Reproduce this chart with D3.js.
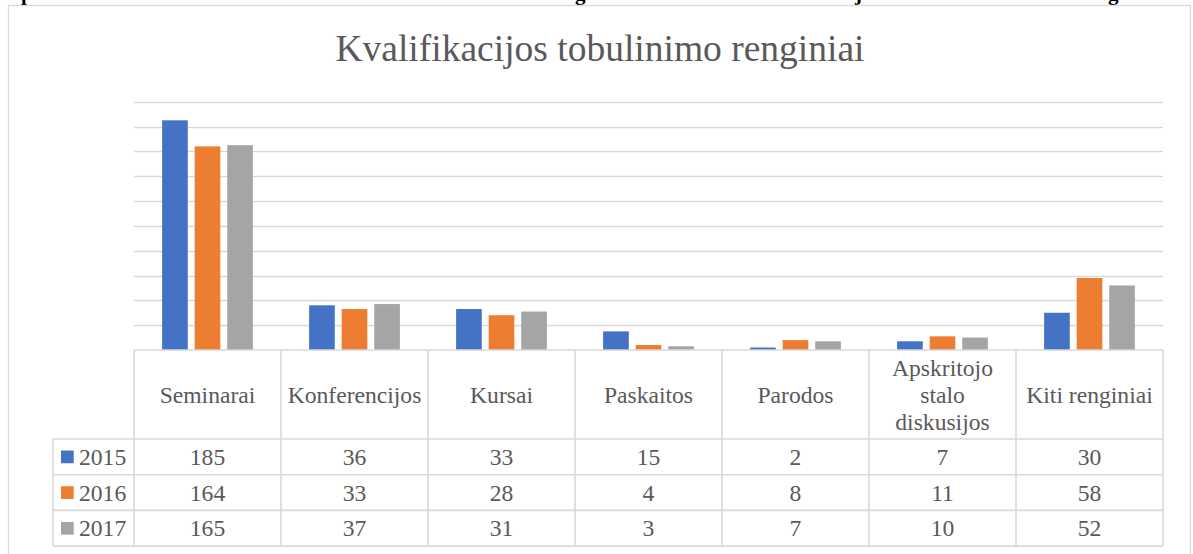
<!DOCTYPE html>
<html>
<head>
<meta charset="utf-8">
<script src="https://cdn.jsdelivr.net/npm/d3@7"></script>
<style>
  body { margin: 0; background: #fff; }
  svg { display: block; }
  svg text { font-family: "Liberation Serif", "Times New Roman", serif; }
</style>
</head>
<body>
<svg width="1193" height="554"></svg>
<script>
var categories = ["Seminarai", "Konferencijos", "Kursai", "Paskaitos", "Parodos", "Apskritojo stalo diskusijos", "Kiti renginiai"];
var years = ["2015", "2016", "2017"];
var values2015 = [185, 36, 33, 15, 2, 7, 30];
var values2016 = [164, 33, 28, 4, 8, 11, 58];
var values2017 = [165, 37, 31, 3, 7, 10, 52];
var colors = ["#4472C4", "#ED7D31", "#A5A5A5"];
var title = "Kvalifikacijos tobulinimo renginiai";

var series = [values2015, values2016, values2017];

var svg = d3.select("svg"),
    textColor = "#595959",
    lineColor = "#D9D9D9";

// clipped line of the document text above the chart
var clipped = [["p", 21], ["g", 575], ["j", 855], ["g", 1108]];
svg.selectAll(".clip-text").data(clipped).enter().append("text")
    .attr("class", "clip-text")
    .attr("x", function(d) { return d[1]; })
    .attr("y", 0)
    .attr("font-size", 21).attr("font-weight", "bold").attr("fill", "#000")
    .text(function(d) { return d[0]; });

// chart area border
svg.append("rect")
    .attr("x", 8.5).attr("y", 5.5).attr("width", 1182).attr("height", 600)
    .attr("fill", "#fff").attr("stroke", lineColor).attr("stroke-width", 1.3);

svg.append("text")
    .attr("x", 600).attr("y", 61)
    .attr("text-anchor", "middle")
    .attr("font-size", 37.5).attr("fill", textColor)
    .text(title);

var plotLeft = 134, plotRight = 1163, plotTop = 101.7, base = 350;

var x = d3.scaleBand().domain(categories).range([plotLeft, plotRight]);
var xs = d3.scaleBand().domain(years).range([0, x.bandwidth()]).paddingInner(0.212).paddingOuter(0.864);
var y = d3.scaleLinear().domain([0, 200]).range([base, plotTop]);

// gridlines
svg.append("g").selectAll("line").data(y.ticks(10).filter(function(t) { return t > 0; }))
  .enter().append("line")
    .attr("x1", plotLeft).attr("x2", plotRight)
    .attr("y1", function(d) { return Math.round(y(d)) + 0.5; })
    .attr("y2", function(d) { return Math.round(y(d)) + 0.5; })
    .attr("stroke", lineColor).attr("stroke-width", 1.3);

// bars
var groups = svg.append("g").selectAll("g").data(series).enter().append("g")
    .attr("fill", function(d, i) { return colors[i]; });

groups.selectAll("rect").data(function(d, i) {
    return d.map(function(v, j) { return {cat: categories[j], year: years[i], v: v}; });
  })
  .enter().append("rect")
    .attr("x", function(d) { return x(d.cat) + xs(d.year); })
    .attr("width", xs.bandwidth())
    .attr("y", function(d) { return y(d.v); })
    .attr("height", function(d) { return base - y(d.v); });

// data table
var headerBottom = 439, rowH = 35.7, legendLeft = 53;
var rowTops = years.map(function(d, i) { return headerBottom + i * rowH; });
var tableBottom = headerBottom + years.length * rowH;
var fs = 23.6;

var grid = svg.append("g").attr("stroke", lineColor).attr("stroke-width", 1.6);
grid.append("line").attr("x1", plotLeft).attr("x2", plotRight).attr("y1", base).attr("y2", base);
[headerBottom].concat(rowTops.slice(1), [tableBottom]).forEach(function(yy) {
  grid.append("line").attr("x1", legendLeft).attr("x2", plotRight).attr("y1", yy).attr("y2", yy);
});
grid.append("line").attr("x1", legendLeft).attr("x2", legendLeft).attr("y1", headerBottom).attr("y2", tableBottom);
categories.concat([null]).forEach(function(c) {
  var xx = c ? x(c) : plotRight;
  grid.append("line").attr("x1", xx).attr("x2", xx).attr("y1", base).attr("y2", tableBottom);
});

// category headers, wrapped to the column width
var heads = svg.append("g").selectAll("text").data(categories).enter().append("text")
    .attr("text-anchor", "middle").attr("font-size", fs).attr("fill", textColor);

heads.each(function(d) {
  var t = d3.select(this), words = d.split(" "), lines = [], cur = [];
  words.forEach(function(w) {
    cur.push(w);
    t.text(cur.join(" "));
    if (this.getComputedTextLength() > x.bandwidth() - 8 && cur.length > 1) {
      cur.pop();
      lines.push(cur.join(" "));
      cur = [w];
    }
  }, this);
  lines.push(cur.join(" "));
  t.text(null);
  var lh = 27, cy = (base + headerBottom) / 2 + 8 - (lines.length - 1) * lh / 2;
  lines.forEach(function(l, k) {
    t.append("tspan").attr("x", x(d) + x.bandwidth() / 2).attr("y", cy + k * lh).text(l);
  });
});

// value rows
series.forEach(function(vals, i) {
  var cy = rowTops[i] + rowH / 2;
  svg.append("rect")
      .attr("x", 61).attr("y", cy - 6.3).attr("width", 12.7).attr("height", 12.7)
      .attr("fill", colors[i]);
  svg.append("text")
      .attr("x", 79).attr("y", cy + 8)
      .attr("font-size", fs).attr("fill", textColor)
      .text(years[i]);
  svg.append("g").selectAll("text").data(vals).enter().append("text")
      .attr("x", function(d, j) { return x(categories[j]) + x.bandwidth() / 2; })
      .attr("y", cy + 8)
      .attr("text-anchor", "middle").attr("font-size", fs).attr("fill", textColor)
      .text(function(d) { return d; });
});
</script>
</body>
</html>
